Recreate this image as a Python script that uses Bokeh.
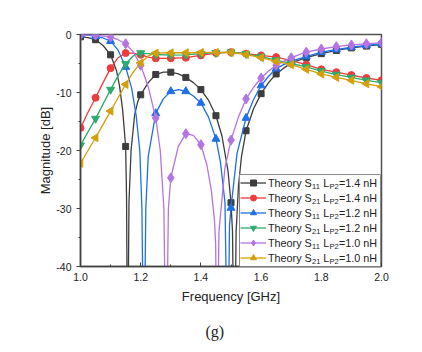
from bokeh.plotting import figure
from bokeh.models import (Range1d, FixedTicker, NumeralTickFormatter, Legend, LegendItem, Title,
                          ColumnDataSource, BoxAnnotation)
from bokeh.core.properties import value
from bokeh.embed import file_html
from bokeh.resources import INLINE

# ---------------- data ----------------
f_s11_14 = [1.00, 1.025, 1.05, 1.075, 1.10, 1.12, 1.13, 1.14, 1.15, 1.153, 1.1565, 1.161, 1.168, 1.18, 1.19,
            1.20, 1.225, 1.25, 1.275, 1.30, 1.325, 1.35, 1.375, 1.40, 1.425, 1.45, 1.47, 1.49, 1.50, 1.505,
            1.511, 1.517, 1.525, 1.535, 1.55, 1.575, 1.60, 1.625, 1.65, 1.675, 1.70, 1.75, 1.80, 1.85, 1.90,
            1.95, 2.00]
s11_14 = [-0.4, -0.55, -0.9, -1.9, -3.5, -6.3, -9.0, -13.0, -19.3, -28, -60, -29, -20, -13.8, -11.6,
          -10.4, -8.3, -6.9, -6.5, -6.5, -6.8, -7.4, -8.3, -9.5, -11.3, -14.0, -17.5, -23.5, -29, -34,
          -60, -34, -26, -21, -16.6, -12.8, -10.2, -8.3, -6.8, -5.8, -4.9, -4.0, -3.3, -2.75, -2.3,
          -2.0, -1.7]

f_s21_14 = [1.00, 1.025, 1.05, 1.075, 1.10, 1.125, 1.15, 1.175, 1.20, 1.225, 1.25, 1.30, 1.35, 1.40, 1.45,
            1.50, 1.55, 1.60, 1.65, 1.70, 1.75, 1.80, 1.85, 1.90, 1.95, 2.00]
s21_14 = [-16.1, -13.4, -10.9, -8.3, -5.8, -4.0, -3.2, -3.2, -3.5, -3.9, -4.1, -4.1, -4.0, -3.6, -3.2,
          -3.05, -3.3, -3.6, -3.9, -4.5, -5.2, -6.0, -6.5, -7.0, -7.5, -7.9]

f_s11_12 = [1.00, 1.025, 1.05, 1.075, 1.10, 1.125, 1.15, 1.17, 1.185, 1.197, 1.204, 1.2105, 1.217, 1.225,
            1.25, 1.275, 1.30, 1.325, 1.35, 1.375, 1.40, 1.425, 1.45, 1.465, 1.48, 1.489, 1.495, 1.50,
            1.52, 1.55, 1.575, 1.60, 1.625, 1.65, 1.675, 1.70, 1.75, 1.80, 1.85, 1.90, 1.95, 2.00]
s11_12 = [-0.05, -0.1, -0.3, -0.6, -1.15, -2.7, -5.6, -9.3, -14, -20, -30, -60, -30, -21,
          -13.6, -11.1, -9.8, -9.5, -9.8, -10.6, -11.8, -14.2, -18.0, -22.0, -29, -60, -33, -29.9,
          -20.5, -14.4, -11.2, -8.8, -7.2, -5.9, -5.2, -4.6, -3.8, -3.05, -2.6, -2.2, -1.9, -1.6]

f_s21_12 = [1.00, 1.025, 1.05, 1.075, 1.10, 1.125, 1.15, 1.175, 1.20, 1.225, 1.25, 1.30, 1.35, 1.40, 1.45,
            1.50, 1.55, 1.60, 1.65, 1.70, 1.75, 1.80, 1.85, 1.90, 1.95, 2.00]
s21_12 = [-19.1, -16.8, -14.5, -12.0, -9.5, -7.1, -5.05, -3.7, -3.2, -3.3, -3.45, -3.55, -3.5, -3.3, -3.15,
          -3.05, -3.35, -3.8, -4.4, -5.0, -5.6, -6.3, -6.9, -7.4, -7.9, -8.3]

f_s11_10 = [1.00, 1.05, 1.10, 1.125, 1.15, 1.175, 1.20, 1.225, 1.25, 1.265, 1.277, 1.2845, 1.292, 1.30,
            1.325, 1.35, 1.375, 1.40, 1.42, 1.435, 1.445, 1.449, 1.4535, 1.46, 1.467, 1.48, 1.50, 1.525,
            1.55, 1.575, 1.60, 1.625, 1.65, 1.70, 1.75, 1.80, 1.85, 1.90, 1.95, 2.00]
s11_10 = [-0.1, -0.1, -0.45, -0.9, -1.6, -3.0, -5.3, -9.0, -14.4, -20, -30, -60, -30, -24.7,
          -19.3, -17.1, -17.4, -19.0, -22.5, -27, -32, -36.1, -60, -34, -30, -23, -18.2, -14.2,
          -11.1, -9.1, -7.5, -6.3, -5.3, -4.0, -3.05, -2.5, -2.1, -1.8, -1.6, -1.4]

f_s21_10 = [1.00, 1.025, 1.05, 1.075, 1.10, 1.125, 1.15, 1.175, 1.20, 1.225, 1.25, 1.30, 1.35, 1.40, 1.45,
            1.50, 1.55, 1.60, 1.65, 1.70, 1.75, 1.80, 1.85, 1.90, 1.95, 2.00]
s21_10 = [-22.2, -20.0, -17.8, -15.5, -13.2, -10.9, -8.6, -6.5, -4.9, -3.7, -3.2, -3.15, -3.15, -3.1, -3.1,
          -3.1, -3.45, -4.0, -4.65, -5.2, -6.0, -6.8, -7.4, -7.9, -8.5, -9.0]

x_ticks = [1.0, 1.2, 1.4, 1.6, 1.8, 2.0]
x_minor = [1.1, 1.3, 1.5, 1.7, 1.9]
y_ticks = [-40, -30, -20, -10, 0]
y_minor = [-35, -25, -15, -5]

param_sub = ["11", "21", "11", "21", "11", "21"]
lp2_text = ["=1.4 nH", "=1.4 nH", "=1.2 nH", "=1.2 nH", "=1.0 nH", "=1.0 nH"]

series = [
    (f_s11_14, s11_14, "#3d3d3d", "square", 6, 0),
    (f_s21_14, s21_14, "#EE3B3B", "circle", 7, 0),
    (f_s11_12, s11_12, "#1F6FE5", "triangle", 8, 0),
    (f_s21_12, s21_12, "#2EAB6E", "inverted_triangle", 8, 0),
    (f_s11_10, s11_10, "#B474E2", "diamond", 10, 0),
    (f_s21_10, s21_10, "#D49F0C", "triangle", 8, 1.5707963),
]

# ---------------- figure ----------------
W, H = 422, 352
BL, BR, BT, BB = 80, 41, 34, 86
FW, FH = W - BL - BR, H - BT - BB
p = figure(width=W, height=H, output_backend="svg", toolbar_location=None,
           x_range=Range1d(1.0, 2.0), y_range=Range1d(-40, 0),
           min_border_left=BL, min_border_right=BR, min_border_top=BT, min_border_bottom=BB)
p.grid.visible = False
p.background_fill_color = "white"
p.border_fill_color = "white"
p.outline_line_color = "#505050"
p.outline_line_width = 1.5

FONT = "Liberation Sans"
for ax in (p.xaxis[0], p.yaxis[0]):
    ax.axis_line_color = "#404040"
    ax.axis_line_width = 1.5
    ax.major_tick_line_color = "#404040"
    ax.minor_tick_line_color = "#404040"
    ax.major_label_text_font = FONT
    ax.major_label_text_font_size = "10.5px"
    ax.major_label_text_color = "#222222"
    ax.axis_label_text_font = FONT
    ax.axis_label_text_font_size = "13px"
    ax.axis_label_text_font_style = "normal"
    ax.axis_label_text_color = "#222222"

p.xaxis.ticker = FixedTicker(ticks=x_ticks, minor_ticks=x_minor)
p.xaxis.formatter = NumeralTickFormatter(format="0.0")
p.xaxis.major_tick_in = 4
p.xaxis.major_tick_out = 0
p.xaxis.minor_tick_in = 2
p.xaxis.minor_tick_out = 0
p.xaxis.major_label_standoff = 6
p.xaxis.axis_label = "Frequency [GHz]"
p.xaxis.axis_label_standoff = 5

p.yaxis.ticker = FixedTicker(ticks=y_ticks, minor_ticks=y_minor)
p.yaxis.formatter = NumeralTickFormatter(format="0")
p.yaxis.major_tick_in = 0
p.yaxis.major_tick_out = 4
p.yaxis.minor_tick_in = 0
p.yaxis.minor_tick_out = 2
p.yaxis.major_label_standoff = 5
p.yaxis.axis_label = "Magnitude [dB]"
p.yaxis.axis_label_standoff = 0

x0d, x1d = p.x_range.start, p.x_range.end
y0d, y1d = p.y_range.start, p.y_range.end


def px2x(px):
    return x0d + px * (x1d - x0d) / FW


def px2y(py):
    return y0d + py * (y1d - y0d) / FH


items = []
for (fx, vy, col, mk, sz, ang) in series:
    ln = p.line(fx, vy, line_color=col, line_width=1.3)
    mx = [f for f, v in zip(fx, vy) if abs(f * 20 - round(f * 20)) < 1e-6 and v > -40]
    my = [v for f, v in zip(fx, vy) if abs(f * 20 - round(f * 20)) < 1e-6 and v > -40]
    sc = p.scatter(mx, my, marker=mk, size=sz, angle=ang, fill_color=col, line_color=col)
    items.append(LegendItem(label=" ", renderers=[ln, sc]))

# legend: white box, glyph samples (legend), and text with subscripts drawn separately
LEG_X, LEG_Y, PAD, ROW, GW, STAND, LW = 159, 0, 1, 15, 26, 2, 111
n = len(items)
box_w = 2 * PAD + GW + STAND + LW
box_h = 2 * PAD + n * ROW
p.add_layout(BoxAnnotation(left=px2x(LEG_X), right=px2x(LEG_X + box_w), bottom=px2y(LEG_Y),
                           top=px2y(LEG_Y + box_h), fill_color="white", fill_alpha=1.0,
                           line_color="#8a8a8a", line_width=1, line_alpha=1.0))

ARIAL = {'T': 611, 'h': 556, 'e': 556, 'o': 556, 'r': 333, 'y': 500, ' ': 278, 'S': 667, '1': 556,
         '2': 556, 'L': 556, 'P': 667, '=': 584, '.': 278, '4': 556, '0': 556, 'n': 556, 'H': 722}


def tw(s, size):
    return sum(ARIAL.get(c, 556) for c in s) * size / 1000.0


MAIN, SUB = 10.8, 7.5
x0 = LEG_X + PAD + GW + STAND - 0.5
main_src = dict(x=[], y=[], text=[])
sub_src = dict(x=[], y=[], text=[])
for i in range(n):
    yc = LEG_Y + PAD + (n - 1 - i) * ROW + ROW / 2.0
    # (text, size, vertical shift, gap before)
    parts = [("Theory S", MAIN, 0, 0), (param_sub[i], SUB, -3, 0.2), ("L", MAIN, 0, tw(" ", MAIN)),
             ("P2", SUB, -3, 0.2), (lp2_text[i], MAIN, 0, 0.2)]
    x = x0
    for txt, size, dy, gap in parts:
        x += gap
        d = main_src if size == MAIN else sub_src
        d["x"].append(px2x(x))
        d["y"].append(px2y(yc + dy))
        d["text"].append(txt)
        x += tw(txt, size)

for d, size in ((main_src, MAIN), (sub_src, SUB)):
    r = p.text(x="x", y="y", text="text", source=ColumnDataSource(d),
               text_font=value(FONT), text_font_size=value(f"{size}px"), text_color="#222222",
               text_align="left", text_baseline="middle")
    r.level = "overlay"

leg = Legend(items=items, location=(LEG_X, LEG_Y), margin=0, padding=PAD, spacing=0,
             glyph_width=GW, glyph_height=ROW, label_height=ROW, label_width=LW,
             label_standoff=STAND, label_text_font_size="1px",
             border_line_alpha=0, background_fill_alpha=0)
p.add_layout(leg, "center")

spacer = Title(text=" ", standoff=0, text_font_size="5px")
p.add_layout(spacer, "below")
cap = Title(text="(g)", align="left", offset=125, standoff=13, text_font="Liberation Serif",
            text_font_size="16px", text_font_style="normal", text_color="#222222")
p.add_layout(cap, "below")

open("out.html", "w").write(file_html(p, INLINE))
